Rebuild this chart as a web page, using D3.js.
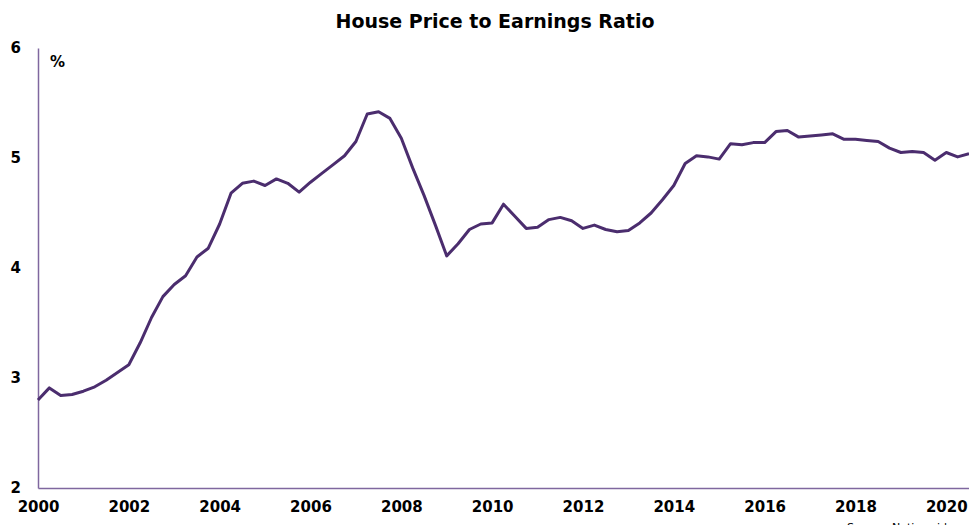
<!DOCTYPE html>
<html>
<head>
<meta charset="utf-8">
<script src="https://cdn.jsdelivr.net/npm/d3@7"></script>
<style>
  body { margin: 0; background: #ffffff; }
  svg { display: block; font-family: "DejaVu Sans", "Liberation Sans", Arial, sans-serif; }
</style>
</head>
<body>
<svg id="chart"></svg>
<script>
// quarterly house price to earnings ratio, 2000Q1 - 2020Q3
const quarters = [
    "2000Q1","2000Q2","2000Q3","2000Q4","2001Q1","2001Q2","2001Q3","2001Q4",
    "2002Q1","2002Q2","2002Q3","2002Q4","2003Q1","2003Q2","2003Q3","2003Q4",
    "2004Q1","2004Q2","2004Q3","2004Q4","2005Q1","2005Q2","2005Q3","2005Q4",
    "2006Q1","2006Q2","2006Q3","2006Q4","2007Q1","2007Q2","2007Q3","2007Q4",
    "2008Q1","2008Q2","2008Q3","2008Q4","2009Q1","2009Q2","2009Q3","2009Q4",
    "2010Q1","2010Q2","2010Q3","2010Q4","2011Q1","2011Q2","2011Q3","2011Q4",
    "2012Q1","2012Q2","2012Q3","2012Q4","2013Q1","2013Q2","2013Q3","2013Q4",
    "2014Q1","2014Q2","2014Q3","2014Q4","2015Q1","2015Q2","2015Q3","2015Q4",
    "2016Q1","2016Q2","2016Q3","2016Q4","2017Q1","2017Q2","2017Q3","2017Q4",
    "2018Q1","2018Q2","2018Q3","2018Q4","2019Q1","2019Q2","2019Q3","2019Q4",
    "2020Q1","2020Q2","2020Q3"
];
const ratio = [
    2.80, 2.91, 2.84, 2.85, 2.88, 2.92, 2.98, 3.05,
    3.12, 3.32, 3.55, 3.74, 3.85, 3.93, 4.10, 4.18,
    4.40, 4.68, 4.77, 4.79, 4.75, 4.81, 4.77, 4.69,
    4.78, 4.86, 4.94, 5.02, 5.15, 5.40, 5.42, 5.36,
    5.18, 4.91, 4.66, 4.39, 4.11, 4.22, 4.35, 4.40,
    4.41, 4.58, 4.47, 4.36, 4.37, 4.44, 4.46, 4.43,
    4.36, 4.39, 4.35, 4.33, 4.34, 4.41, 4.50, 4.62,
    4.75, 4.95, 5.02, 5.01, 4.99, 5.13, 5.12, 5.14,
    5.14, 5.24, 5.25, 5.19, 5.20, 5.21, 5.22, 5.17,
    5.17, 5.16, 5.15, 5.09, 5.05, 5.06, 5.05, 4.98,
    5.05, 5.01, 5.04
];
const yTicks = [2, 3, 4, 5, 6];
const xTicks = [2000, 2002, 2004, 2006, 2008, 2010, 2012, 2014, 2016, 2018, 2020];

const ancho = 969;
const alto = 525;
const margen = {left: 38, top: 48, right: 0, bottom: 37};

const svg = d3.select("#chart").attr("width", ancho).attr("height", alto);

// quarter string -> fractional year
function aAnio (q) {
    return +q.slice(0, 4) + (+q.slice(5) - 1) / 4;
}

const escalaX = d3.scaleLinear()
    .domain([2000, aAnio(quarters[quarters.length - 1])])
    .range([margen.left, ancho - margen.right]);
const escalaY = d3.scaleLinear()
    .domain([2, 6])
    .range([alto - margen.bottom, margen.top]);

// title
svg.append("text")
    .attr("x", 495)
    .attr("y", 28)
    .attr("text-anchor", "middle")
    .style("font-size", "19px")
    .style("font-weight", "bold")
    .text("House Price to Earnings Ratio");

// y axis
const ejeY = d3.axisLeft(escalaY)
    .tickValues(yTicks)
    .tickSize(0)
    .tickPadding(17)
    .tickFormat(d3.format("d"));
const gY = svg.append("g")
    .attr("transform", "translate(" + margen.left + ",0)")
    .call(ejeY);
gY.select(".domain").attr("stroke", "#7f679f").attr("stroke-width", 1.5);
gY.selectAll("text")
    .style("font-family", "DejaVu Sans")
    .style("font-size", "15px")
    .style("font-weight", "bold")
    .attr("fill", "#000");

// x axis
const ejeX = d3.axisBottom(escalaX)
    .tickValues(xTicks)
    .tickSize(0)
    .tickPadding(13)
    .tickFormat(d3.format("d"));
const gX = svg.append("g")
    .attr("transform", "translate(0," + (alto - margen.bottom) + ")")
    .call(ejeX);
gX.select(".domain").attr("stroke", "#7f679f").attr("stroke-width", 1.5);
gX.selectAll("text")
    .style("font-family", "DejaVu Sans")
    .style("font-size", "15px")
    .style("font-weight", "bold")
    .attr("fill", "#000");

// unit label
svg.append("text")
    .attr("x", 50)
    .attr("y", 67)
    .style("font-size", "15px")
    .style("font-weight", "bold")
    .text("%");

// the line
const linea = d3.line()
    .x(function (d, i) { return escalaX(aAnio(quarters[i])); })
    .y(function (d) { return escalaY(d); });

svg.append("path")
    .attr("d", linea(ratio))
    .attr("fill", "none")
    .attr("stroke", "#4b2d6e")
    .attr("stroke-width", 3)
    .attr("stroke-linejoin", "round");

// source, clipped by the bottom edge as in the original
svg.append("text")
    .attr("x", 847)
    .attr("y", 531)
    .style("font-size", "11px")
    .text("Source: Nationwide");
</script>
</body>
</html>
